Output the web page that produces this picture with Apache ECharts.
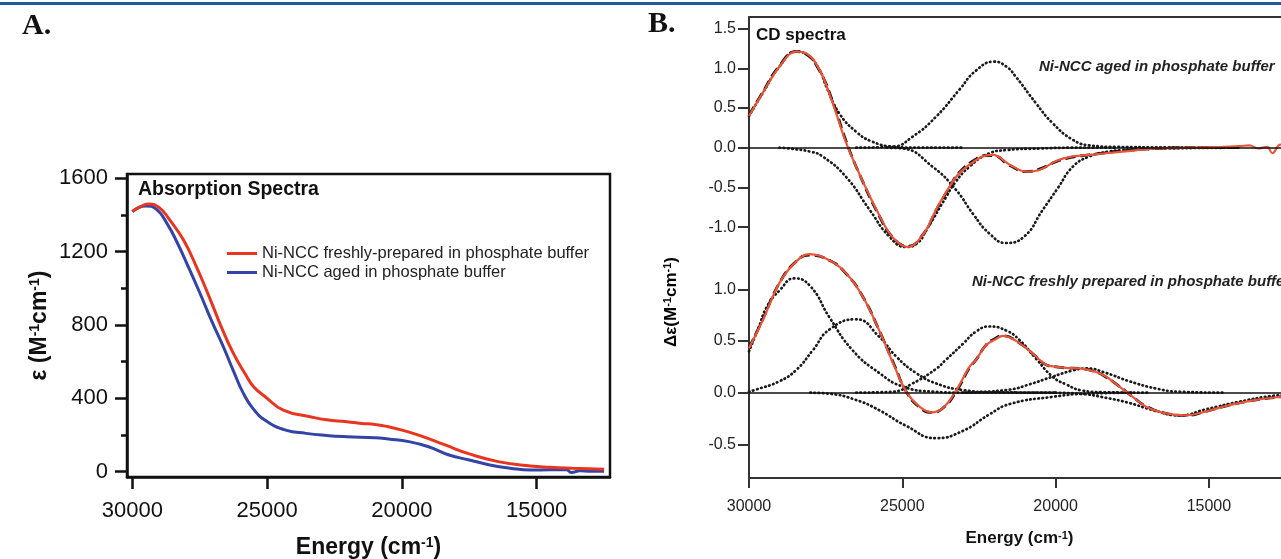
<!DOCTYPE html>
<html><head><meta charset="utf-8">
<script src="https://cdn.jsdelivr.net/npm/echarts@6/dist/echarts.min.js"></script>
<style>html,body{margin:0;padding:0;overflow:hidden;background:#fff}#c{width:1300px;height:559px}</style>
</head><body><div id="c"></div>
<script>
// ---------- Panel A: absorption spectra ----------
const absEnergyFresh = [30000, 29700, 29400, 29000, 28600, 28100, 27600, 27100, 26700, 26250, 25800, 25500, 25070, 24400, 23400, 22800, 22040, 21500, 21000, 20500, 20000, 19300, 18400, 17500, 16430, 15230, 14500, 13700, 12500];
const absFresh       = [1418, 1445, 1460, 1440, 1370, 1263, 1110, 936, 790, 645, 530, 463, 409, 336, 300, 283, 273, 263, 258, 245, 227, 195, 146, 97, 55, 31, 24, 19, 13];
const absEnergyAged  = [30000, 29500, 29100, 28700, 28350, 27900, 27490, 27050, 26625, 26250, 25880, 25500, 25015, 24310, 23550, 22800, 22040, 21000, 20500, 19740, 19010, 18250, 17500, 16740, 15980, 15230, 14500, 13900, 13700, 13400, 13000, 12500];
const absAged        = [1418, 1449, 1430, 1350, 1254, 1110, 973, 820, 682, 550, 427, 340, 275, 227, 209, 198, 191, 185, 178, 164, 136, 91, 64, 37, 19, 9, 10, 10, -5, 5, 3, 3];
const absTicksX = [30000, 25000, 20000, 15000];
const absTicksY = [0, 400, 800, 1200, 1600];
const absMinorY = [200, 600, 1000, 1400];

// ---------- Panel B: CD spectra, aged (upper) ----------
const agedE    = [30000, 29550, 29010, 28460, 28140, 27700, 27270, 26830, 26400, 25750, 25310, 24820, 24300, 23900, 23460, 23140, 22590, 22300, 22050, 21510, 20960, 20530, 19950, 19440, 18900, 17810, 16720, 15640, 14560, 14000, 13680, 13400, 13100, 12930, 12670, 12400];
const agedCD   = [0.40, 0.69, 1.02, 1.21, 1.19, 0.98, 0.56, 0.06, -0.33, -0.85, -1.13, -1.25, -1.08, -0.78, -0.49, -0.32, -0.155, -0.10, -0.09, -0.21, -0.30, -0.28, -0.16, -0.11, -0.09, -0.05, -0.01, 0.00, 0.01, 0.02, 0.03, -0.01, 0.01, -0.07, 0.04, 0.02];
const agedFitE = [30000, 29550, 29010, 28460, 28140, 27700, 27270, 26830, 26400, 25750, 25310, 24820, 24300, 23900, 23460, 23140, 22590, 22300, 22050, 21510, 20960, 20530, 19950, 19440, 18900, 17810, 16720, 15640, 14000];
const agedFit  = [0.41, 0.70, 1.03, 1.21, 1.18, 0.97, 0.58, 0.08, -0.33, -0.86, -1.13, -1.24, -1.08, -0.79, -0.50, -0.31, -0.14, -0.10, -0.10, -0.22, -0.30, -0.27, -0.17, -0.12, -0.09, -0.04, -0.01, 0.0, 0.0];
const agedG1E = [30000, 29550, 29010, 28460, 28140, 27700, 27480, 27050, 26500, 26000, 25300, 24500, 23000];
const agedG1  = [0.40, 0.69, 1.02, 1.21, 1.18, 0.98, 0.77, 0.43, 0.20, 0.08, 0.013, 0.0, 0.0];
const agedG2E = [29000, 28680, 28000, 27600, 26830, 26070, 25420, 24880, 24500, 24220, 23570, 23300, 22810, 22160, 21610, 20500, 19500, 18000];
const agedG2  = [0, -0.01, -0.05, -0.11, -0.37, -0.78, -1.12, -1.25, -1.20, -1.04, -0.62, -0.45, -0.24, -0.07, -0.03, -0.01, 0, 0];
const agedG3E = [26500, 25310, 24660, 23900, 23140, 22600, 22000, 21600, 21290, 20640, 20100, 19440, 18900, 18000, 16500, 14000];
const agedG3  = [0, 0.013, 0.14, 0.39, 0.73, 0.97, 1.083, 1.02, 0.89, 0.56, 0.31, 0.10, 0.03, 0.01, 0.005, 0];
const agedG4E = [25500, 24990, 24010, 23250, 22700, 22160, 21610, 21000, 20450, 19930, 19440, 18900, 18300, 17800, 16500, 14000];
const agedG4  = [0, -0.01, -0.24, -0.53, -0.83, -1.08, -1.20, -1.11, -0.80, -0.51, -0.24, -0.11, -0.05, -0.03, -0.01, 0];

// ---------- Panel B: CD spectra, freshly prepared (lower) ----------
const freshE  = [30000, 29550, 29010, 28460, 28030, 27380, 26830, 26290, 25750, 25250, 24850, 24440, 24060, 23680, 23245, 22810, 22590, 22270, 21940, 21725, 21180, 20640, 20310, 19980, 19660, 19220, 18680, 18350, 18140, 17700, 17485, 17050, 16400, 15740, 15090, 14330, 13460, 12670, 12400];
const freshCD = [0.43, 0.70, 1.06, 1.27, 1.34, 1.28, 1.155, 0.93, 0.60, 0.25, 0.0, -0.135, -0.19, -0.15, 0.02, 0.25, 0.32, 0.46, 0.52, 0.55, 0.48, 0.35, 0.27, 0.25, 0.24, 0.235, 0.20, 0.155, 0.11, 0.01, -0.04, -0.135, -0.20, -0.22, -0.18, -0.12, -0.07, -0.04, -0.035];
const freshFit = [0.43, 0.71, 1.06, 1.27, 1.33, 1.28, 1.15, 0.93, 0.60, 0.26, 0.0, -0.14, -0.19, -0.15, 0.01, 0.24, 0.32, 0.46, 0.53, 0.55, 0.48, 0.35, 0.27, 0.25, 0.24, 0.235, 0.20, 0.15, 0.11, 0.01, -0.04, -0.13, -0.20, -0.22, -0.18, -0.12, -0.07, -0.04, -0.035];
const freshL1E = [30000, 29700, 29400, 29000, 28520, 28000, 27380, 26620, 25750, 24990, 24000, 23000, 20000];
const freshL1  = [0.40, 0.62, 0.84, 0.99, 1.106, 1.03, 0.73, 0.41, 0.19, 0.06, 0.01, 0, 0];
const freshL2E = [30000, 29770, 29010, 28460, 27920, 27380, 26510, 25750, 25200, 24550, 23900, 23030, 22000, 20000];
const freshL2  = [0.01, 0.03, 0.11, 0.22, 0.41, 0.61, 0.71, 0.54, 0.35, 0.19, 0.09, 0.026, 0.005, 0];
const freshL3E = [26500, 25300, 24660, 23900, 23570, 23030, 22600, 22160, 21600, 21180, 20640, 20100, 19660, 19120, 18500, 17000];
const freshL3  = [0, 0.01, 0.09, 0.23, 0.32, 0.47, 0.59, 0.64, 0.60, 0.51, 0.33, 0.155, 0.08, 0.02, 0.005, 0];
const freshL4E = [28000, 27380, 26510, 25750, 24880, 23900, 23030, 22160, 21500, 20100, 19000, 17500];
const freshL4  = [0, -0.01, -0.07, -0.17, -0.32, -0.44, -0.37, -0.21, -0.11, -0.04, -0.01, 0];
const freshL5E = [23000, 21500, 20860, 20100, 19500, 19000, 18350, 17590, 16720, 16000, 14500];
const freshL5  = [0, 0.03, 0.08, 0.155, 0.21, 0.235, 0.19, 0.11, 0.04, 0.01, 0];
const freshL6E = [20000, 19200, 18350, 17590, 16800, 15960, 15090, 14000, 12920, 12400];
const freshL6  = [0, -0.01, -0.05, -0.10, -0.17, -0.22, -0.16, -0.087, -0.03, -0.02];

const cdTicksX = [30000, 25000, 20000, 15000];
const cdTicksUpper = [-1.0, -0.5, 0.0, 0.5, 1.0, 1.5];
const cdTicksLower = [-0.5, 0.0, 0.5, 1.0];

const nameFresh = 'Ni-NCC freshly-prepared in phosphate buffer';
const nameAged = 'Ni-NCC aged in phosphate buffer';

function pairs(xs, ys) { return xs.map((x, i) => [x, ys[i]]); }

const FONT = "'Liberation Sans', Arial, Helvetica, sans-serif";
const INK = '#111';
const RED_B = '#e8553a';
const plain = v => String(v);
const oneDec = v => v.toFixed(1);

const chart = echarts.init(document.getElementById('c'), null, {renderer: 'canvas'});

function dotted(name, xs, ys, xi, yi) {
  return {name, type: 'line', xAxisIndex: xi, yAxisIndex: yi, data: pairs(xs, ys), smooth: true,
    showSymbol: false, silent: true, z: 2,
    lineStyle: {color: '#1a1a1a', width: 2.7, type: [0.6, 3.6], cap: 'round'}};
}
function dashed(name, xs, ys, xi, yi) {
  return {name, type: 'line', xAxisIndex: xi, yAxisIndex: yi, data: pairs(xs, ys), smooth: true,
    showSymbol: false, silent: true, z: 3,
    lineStyle: {color: '#111', width: 2.8, type: [10, 5]}};
}
function measured(name, xs, ys, xi, yi) {
  return {name, type: 'line', xAxisIndex: xi, yAxisIndex: yi, data: pairs(xs, ys), smooth: 0.4,
    showSymbol: false, silent: true, z: 4,
    lineStyle: {color: RED_B, width: 2.2},
    markLine: {silent: true, symbol: ['none', 'none'], label: {show: false}, animation: false,
      lineStyle: {color: '#111', type: 'solid', width: 1.5}, data: [{yAxis: 0}]}};
}

const richTitle = (size) => ({
  n: {fontSize: size, fontWeight: 'bold', fontFamily: FONT, color: INK},
  s: {fontSize: Math.round(size * 0.62), fontWeight: 'bold', fontFamily: FONT, color: INK, verticalAlign: 'top'}
});

const option = {
  animation: false,
  backgroundColor: '#fff',
  textStyle: {fontFamily: FONT},
  legend: {
    data: [nameFresh, nameAged], orient: 'vertical', left: 227, top: 245, padding: 0,
    itemWidth: 30, itemHeight: 3, itemGap: 2, icon: 'rect',
    textStyle: {fontSize: 16.5, color: '#222', fontFamily: FONT}
  },
  grid: [
    {left: 127, top: 174, width: 483, height: 303, show: true, borderColor: INK, borderWidth: 2.5, backgroundColor: 'transparent', outerBoundsMode: 'none'},
    {left: 749, top: 17, width: 541, height: 233, outerBoundsMode: 'none'},
    {left: 749, top: 250, width: 541, height: 228, outerBoundsMode: 'none'}
  ],
  xAxis: [
    {gridIndex: 0, type: 'value', inverse: true, min: 12281, max: 30197, position: 'bottom',
      axisLine: {onZero: false, lineStyle: {color: INK, width: 2.5}},
      axisTick: {customValues: absTicksX, length: 12, lineStyle: {color: INK, width: 2.5}},
      axisLabel: {customValues: absTicksX, formatter: plain, fontSize: 22, color: INK, margin: 23, fontFamily: FONT},
      splitLine: {show: false},
      name: '{n|Energy (cm}{s|-1}{n|)}', nameLocation: 'middle', nameGap: 59,
      nameTextStyle: {rich: richTitle(23)}},
    {gridIndex: 1, type: 'value', inverse: true, min: 12355, max: 30000, position: 'top',
      axisLine: {onZero: false, lineStyle: {color: '#333', width: 2}}, axisTick: {show: false}, axisLabel: {show: false},
      splitLine: {show: false}},
    {gridIndex: 2, type: 'value', inverse: true, min: 12355, max: 30000, position: 'bottom',
      axisLine: {onZero: false, lineStyle: {color: '#333', width: 2}},
      axisTick: {customValues: cdTicksX, length: 10, lineStyle: {color: '#333', width: 2}},
      axisLabel: {customValues: cdTicksX, formatter: plain, fontSize: 16, color: '#222', margin: 21, fontFamily: FONT},
      splitLine: {show: false},
      name: '{n|Energy (cm}{s|-1}{n|)}', nameLocation: 'middle', nameGap: 52,
      nameTextStyle: {rich: richTitle(17)}}
  ],
  yAxis: [
    {gridIndex: 0, type: 'value', min: -28.9, max: 1623.4, position: 'left',
      axisLine: {show: true, onZero: false, lineStyle: {color: INK, width: 2.5}},
      axisTick: {show: true, customValues: absTicksY, length: 12, lineStyle: {color: INK, width: 2.5}},
      axisLabel: {customValues: absTicksY, formatter: plain, fontSize: 22, color: INK, margin: 19, fontFamily: FONT},
      splitLine: {show: false},
      name: '{n|ε (M}{s|-1}{n|cm}{s|-1}{n|)}', nameLocation: 'middle', nameRotate: 90, nameGap: 76,
      nameTextStyle: {rich: richTitle(23)}},
    {gridIndex: 0, type: 'value', min: -28.9, max: 1623.4, position: 'left',
      axisLine: {show: false, onZero: false},
      axisTick: {show: true, customValues: absMinorY, length: 6, lineStyle: {color: INK, width: 2.5}},
      axisLabel: {show: false}, splitLine: {show: false}},
    {gridIndex: 1, type: 'value', min: -1.288, max: 1.646, position: 'left',
      axisLine: {show: true, onZero: false, lineStyle: {color: '#333', width: 2}},
      axisTick: {show: true, customValues: cdTicksUpper, length: 11, lineStyle: {color: '#333', width: 2}},
      axisLabel: {customValues: cdTicksUpper, fontSize: 16, color: '#222', margin: 13, fontFamily: FONT, formatter: oneDec},
      splitLine: {show: false}},
    {gridIndex: 2, type: 'value', min: -0.825, max: 1.38, position: 'left',
      axisLine: {show: true, onZero: false, lineStyle: {color: '#333', width: 2}},
      axisTick: {show: true, customValues: cdTicksLower, length: 11, lineStyle: {color: '#333', width: 2}},
      axisLabel: {customValues: cdTicksLower, fontSize: 16, color: '#222', margin: 13, fontFamily: FONT, formatter: oneDec},
      splitLine: {show: false}}
  ],
  series: [
    {name: nameFresh, type: 'line', xAxisIndex: 0, yAxisIndex: 0, data: pairs(absEnergyFresh, absFresh),
      smooth: true, showSymbol: false, silent: true, z: 4,
      lineStyle: {color: '#e8351f', width: 3}, itemStyle: {color: '#e8351f'}},
    {name: nameAged, type: 'line', xAxisIndex: 0, yAxisIndex: 0, data: pairs(absEnergyAged, absAged),
      smooth: true, showSymbol: false, silent: true, z: 3,
      lineStyle: {color: '#3343a6', width: 3}, itemStyle: {color: '#3343a6'}},

    dotted('aged band 1', agedG1E, agedG1, 1, 2),
    dotted('aged band 2', agedG2E, agedG2, 1, 2),
    dotted('aged band 3', agedG3E, agedG3, 1, 2),
    dotted('aged band 4', agedG4E, agedG4, 1, 2),
    dashed('aged fit', agedFitE, agedFit, 1, 2),
    measured('aged CD', agedE, agedCD, 1, 2),

    dotted('fresh band 1', freshL1E, freshL1, 2, 3),
    dotted('fresh band 2', freshL2E, freshL2, 2, 3),
    dotted('fresh band 3', freshL3E, freshL3, 2, 3),
    dotted('fresh band 4', freshL4E, freshL4, 2, 3),
    dotted('fresh band 5', freshL5E, freshL5, 2, 3),
    dotted('fresh band 6', freshL6E, freshL6, 2, 3),
    dashed('fresh fit', freshE, freshFit, 2, 3),
    measured('fresh CD', freshE, freshCD, 2, 3)
  ],
  graphic: [
    {type: 'rect', left: 0, top: 2, shape: {width: 1300, height: 3}, style: {fill: '#1d5ca0'}, silent: true},
    {type: 'text', x: 22, y: 26, silent: true,
      style: {text: 'A.', font: "bold 30px 'Liberation Serif', 'Times New Roman', serif", fill: '#111', verticalAlign: 'middle'}},
    {type: 'text', x: 648, y: 24, silent: true,
      style: {text: 'B.', font: "bold 30px 'Liberation Serif', 'Times New Roman', serif", fill: '#111', verticalAlign: 'middle'}},
    {type: 'text', x: 138, y: 190, silent: true,
      style: {text: 'Absorption Spectra', font: "bold 19.5px " + FONT, fill: '#111', verticalAlign: 'middle'}},
    {type: 'text', x: 756, y: 35, silent: true,
      style: {text: 'CD spectra', font: "bold 17px " + FONT, fill: '#111', verticalAlign: 'middle'}},
    {type: 'text', x: 1039, y: 67, silent: true,
      style: {text: 'Ni-NCC aged in phosphate buffer', font: "italic bold 15px " + FONT, fill: '#222', verticalAlign: 'middle'}},
    {type: 'text', x: 972, y: 282, silent: true,
      style: {text: 'Ni-NCC freshly prepared in phosphate buffer', font: "italic bold 15px " + FONT, fill: '#222', verticalAlign: 'middle'}},
    {type: 'text', x: 671, y: 302, rotation: Math.PI / 2, silent: true,
      style: {text: '{n|Δε(M}{s|-1}{n|cm}{s|-1}{n|)}', rich: richTitle(17), align: 'center', verticalAlign: 'middle'}}
  ]
};
chart.setOption(option);
</script>
</body></html>
